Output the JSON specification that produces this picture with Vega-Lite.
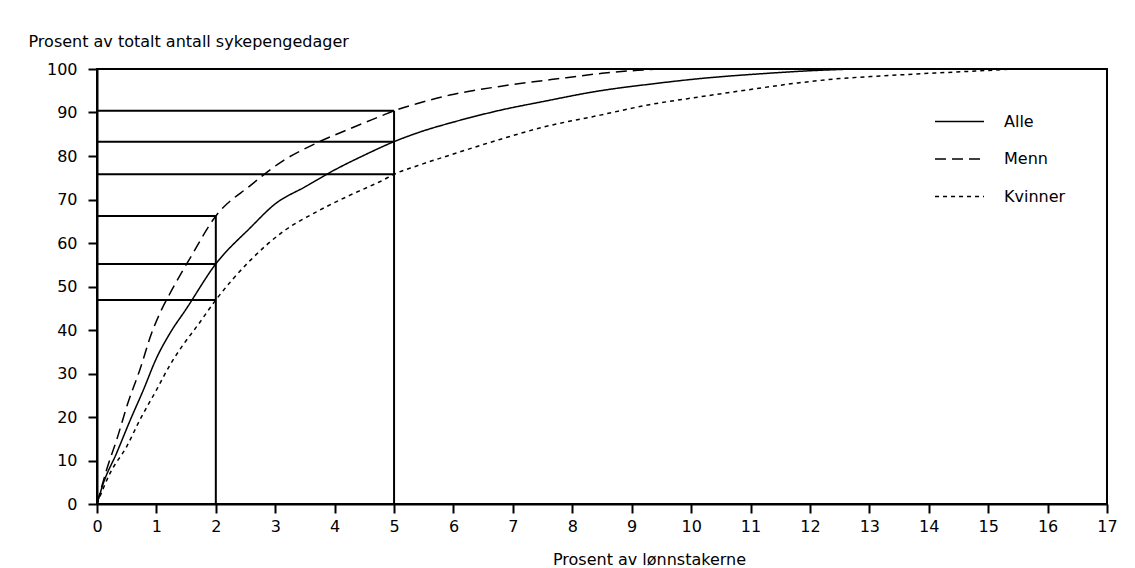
{
  "$schema": "https://vega.github.io/schema/vega-lite/v6.json",
  "autosize": "none",
  "padding": {"left": 97, "top": 69, "right": 28, "bottom": 64},
  "width": 1010,
  "height": 435,
  "background": "white",
  "datasets": {
    "curves": [
      {"g": "Alle", "x": 0, "y": 0}, {"g": "Alle", "x": 0.1, "y": 4.5}, {"g": "Alle", "x": 0.33, "y": 11.7}, {"g": "Alle", "x": 0.56, "y": 19.3}, {"g": "Alle", "x": 0.78, "y": 26.2}, {"g": "Alle", "x": 1.0, "y": 33.5}, {"g": "Alle", "x": 1.23, "y": 39.3}, {"g": "Alle", "x": 1.5, "y": 44.8}, {"g": "Alle", "x": 2.0, "y": 55.2}, {"g": "Alle", "x": 2.58, "y": 63.5}, {"g": "Alle", "x": 3.0, "y": 69.0}, {"g": "Alle", "x": 3.5, "y": 72.9}, {"g": "Alle", "x": 4.0, "y": 76.8}, {"g": "Alle", "x": 4.5, "y": 80.2}, {"g": "Alle", "x": 5.0, "y": 83.3}, {"g": "Alle", "x": 5.5, "y": 85.8}, {"g": "Alle", "x": 6.0, "y": 87.8}, {"g": "Alle", "x": 6.78, "y": 90.5}, {"g": "Alle", "x": 7.5, "y": 92.5}, {"g": "Alle", "x": 8.47, "y": 95.0}, {"g": "Alle", "x": 9.3, "y": 96.5}, {"g": "Alle", "x": 10.15, "y": 97.8}, {"g": "Alle", "x": 11.28, "y": 99.0}, {"g": "Alle", "x": 12.0, "y": 99.6}, {"g": "Alle", "x": 12.75, "y": 100},
      {"g": "Menn", "x": 0, "y": 0}, {"g": "Menn", "x": 0.16, "y": 7.8}, {"g": "Menn", "x": 0.33, "y": 14.7}, {"g": "Menn", "x": 0.52, "y": 23.2}, {"g": "Menn", "x": 0.72, "y": 30.8}, {"g": "Menn", "x": 0.92, "y": 39.3}, {"g": "Menn", "x": 1.06, "y": 43.9}, {"g": "Menn", "x": 1.26, "y": 49.2}, {"g": "Menn", "x": 1.57, "y": 56.6}, {"g": "Menn", "x": 2.0, "y": 66.2}, {"g": "Menn", "x": 2.58, "y": 73.2}, {"g": "Menn", "x": 3.13, "y": 78.9}, {"g": "Menn", "x": 3.7, "y": 83.0}, {"g": "Menn", "x": 4.26, "y": 86.3}, {"g": "Menn", "x": 4.82, "y": 89.4}, {"g": "Menn", "x": 5.0, "y": 90.4}, {"g": "Menn", "x": 5.38, "y": 92.0}, {"g": "Menn", "x": 5.94, "y": 94.0}, {"g": "Menn", "x": 6.78, "y": 96.0}, {"g": "Menn", "x": 7.9, "y": 98.0}, {"g": "Menn", "x": 8.5, "y": 99.0}, {"g": "Menn", "x": 9.1, "y": 99.7}, {"g": "Menn", "x": 9.5, "y": 100},
      {"g": "Kvinner", "x": 0, "y": 0}, {"g": "Kvinner", "x": 0.22, "y": 7.1}, {"g": "Kvinner", "x": 0.5, "y": 13.2}, {"g": "Kvinner", "x": 0.72, "y": 19.3}, {"g": "Kvinner", "x": 1.0, "y": 26.2}, {"g": "Kvinner", "x": 1.23, "y": 32.0}, {"g": "Kvinner", "x": 1.45, "y": 36.6}, {"g": "Kvinner", "x": 1.68, "y": 40.8}, {"g": "Kvinner", "x": 2.0, "y": 46.9}, {"g": "Kvinner", "x": 2.58, "y": 56.0}, {"g": "Kvinner", "x": 3.13, "y": 62.6}, {"g": "Kvinner", "x": 3.7, "y": 67.2}, {"g": "Kvinner", "x": 4.26, "y": 71.0}, {"g": "Kvinner", "x": 4.82, "y": 74.5}, {"g": "Kvinner", "x": 5.0, "y": 75.8}, {"g": "Kvinner", "x": 5.38, "y": 77.7}, {"g": "Kvinner", "x": 5.94, "y": 80.2}, {"g": "Kvinner", "x": 6.78, "y": 83.8}, {"g": "Kvinner", "x": 7.5, "y": 86.6}, {"g": "Kvinner", "x": 8.47, "y": 89.4}, {"g": "Kvinner", "x": 9.3, "y": 91.8}, {"g": "Kvinner", "x": 10.15, "y": 93.6}, {"g": "Kvinner", "x": 11.0, "y": 95.3}, {"g": "Kvinner", "x": 11.8, "y": 96.8}, {"g": "Kvinner", "x": 12.5, "y": 97.8}, {"g": "Kvinner", "x": 13.2, "y": 98.4}, {"g": "Kvinner", "x": 14.0, "y": 99.0}, {"g": "Kvinner", "x": 14.6, "y": 99.4}, {"g": "Kvinner", "x": 15.45, "y": 100}
    ],
    "href": [
      {"x0": 0, "x": 2, "y": 66.2}, {"x0": 0, "x": 2, "y": 55.2}, {"x0": 0, "x": 2, "y": 46.9},
      {"x0": 0, "x": 5, "y": 90.4}, {"x0": 0, "x": 5, "y": 83.3}, {"x0": 0, "x": 5, "y": 75.8}
    ],
    "vref": [
      {"x": 2, "y0": 0, "top": 66.2}, {"x": 5, "y0": 0, "top": 90.4}
    ]
  },
  "layer": [
    {
      "data": {"name": "curves"},
      "mark": {"type": "line", "color": "black", "strokeWidth": 1.5, "interpolate": "monotone"},
      "encoding": {
        "x": {"field": "x", "type": "quantitative", "scale": {"domain": [0, 17], "nice": false},
          "axis": {"values": [0,1,2,3,4,5,6,7,8,9,10,11,12,13,14,15,16,17], "format": "d", "labelPadding": 5, "labelFlush": false,
            "title": "Prosent av lønnstakerne", "titleX": 552, "titleY": 55, "titleAlign": "center", "titleBaseline": "middle"}},
        "y": {"field": "y", "type": "quantitative", "scale": {"domain": [0, 100], "nice": false},
          "axis": {"values": [0,10,20,30,40,50,60,70,80,90,100], "labelPadding": 11, "labelFlush": false,
            "title": "Prosent av totalt antall sykepengedager", "titleAngle": 0, "titleX": -69, "titleY": -23, "titleAlign": "left", "titleBaseline": "alphabetic"}},
        "strokeDash": {"field": "g", "type": "nominal",
          "scale": {"domain": ["Alle", "Menn", "Kvinner"], "range": [[1, 0], [11, 6], [4, 4]]},
          "legend": {"title": null, "orient": "none", "legendX": 837, "legendY": 27}},
        "order": {"field": "x", "type": "quantitative"}
      }
    },
    {
      "data": {"name": "href"},
      "mark": {"type": "rule", "color": "black", "strokeWidth": 2},
      "encoding": {
        "x": {"field": "x0", "type": "quantitative"},
        "x2": {"field": "x"},
        "y": {"field": "y", "type": "quantitative"}
      }
    },
    {
      "data": {"name": "vref"},
      "mark": {"type": "rule", "color": "black", "strokeWidth": 2},
      "encoding": {
        "x": {"field": "x", "type": "quantitative"},
        "y": {"field": "y0", "type": "quantitative"},
        "y2": {"field": "top"}
      }
    }
  ],
  "config": {
    "view": {"stroke": "black", "strokeWidth": 2},
    "font": "DejaVu Sans",
    "axis": {
      "grid": false, "domainColor": "black", "domainWidth": 2, "tickColor": "black", "tickWidth": 2, "tickSize": 9,
      "labelFont": "DejaVu Sans", "labelFontSize": 16, "labelColor": "black",
      "titleFont": "DejaVu Sans", "titleFontSize": 16, "titleFontWeight": "normal", "titleColor": "black"
    },
    "legend": {
      "symbolType": "stroke", "symbolSize": 2400, "symbolStrokeWidth": 1.5, "symbolStrokeColor": "black",
      "labelFont": "DejaVu Sans", "labelFontSize": 16, "labelColor": "black", "labelOffset": 19, "rowPadding": 3.5
    }
  }
}
